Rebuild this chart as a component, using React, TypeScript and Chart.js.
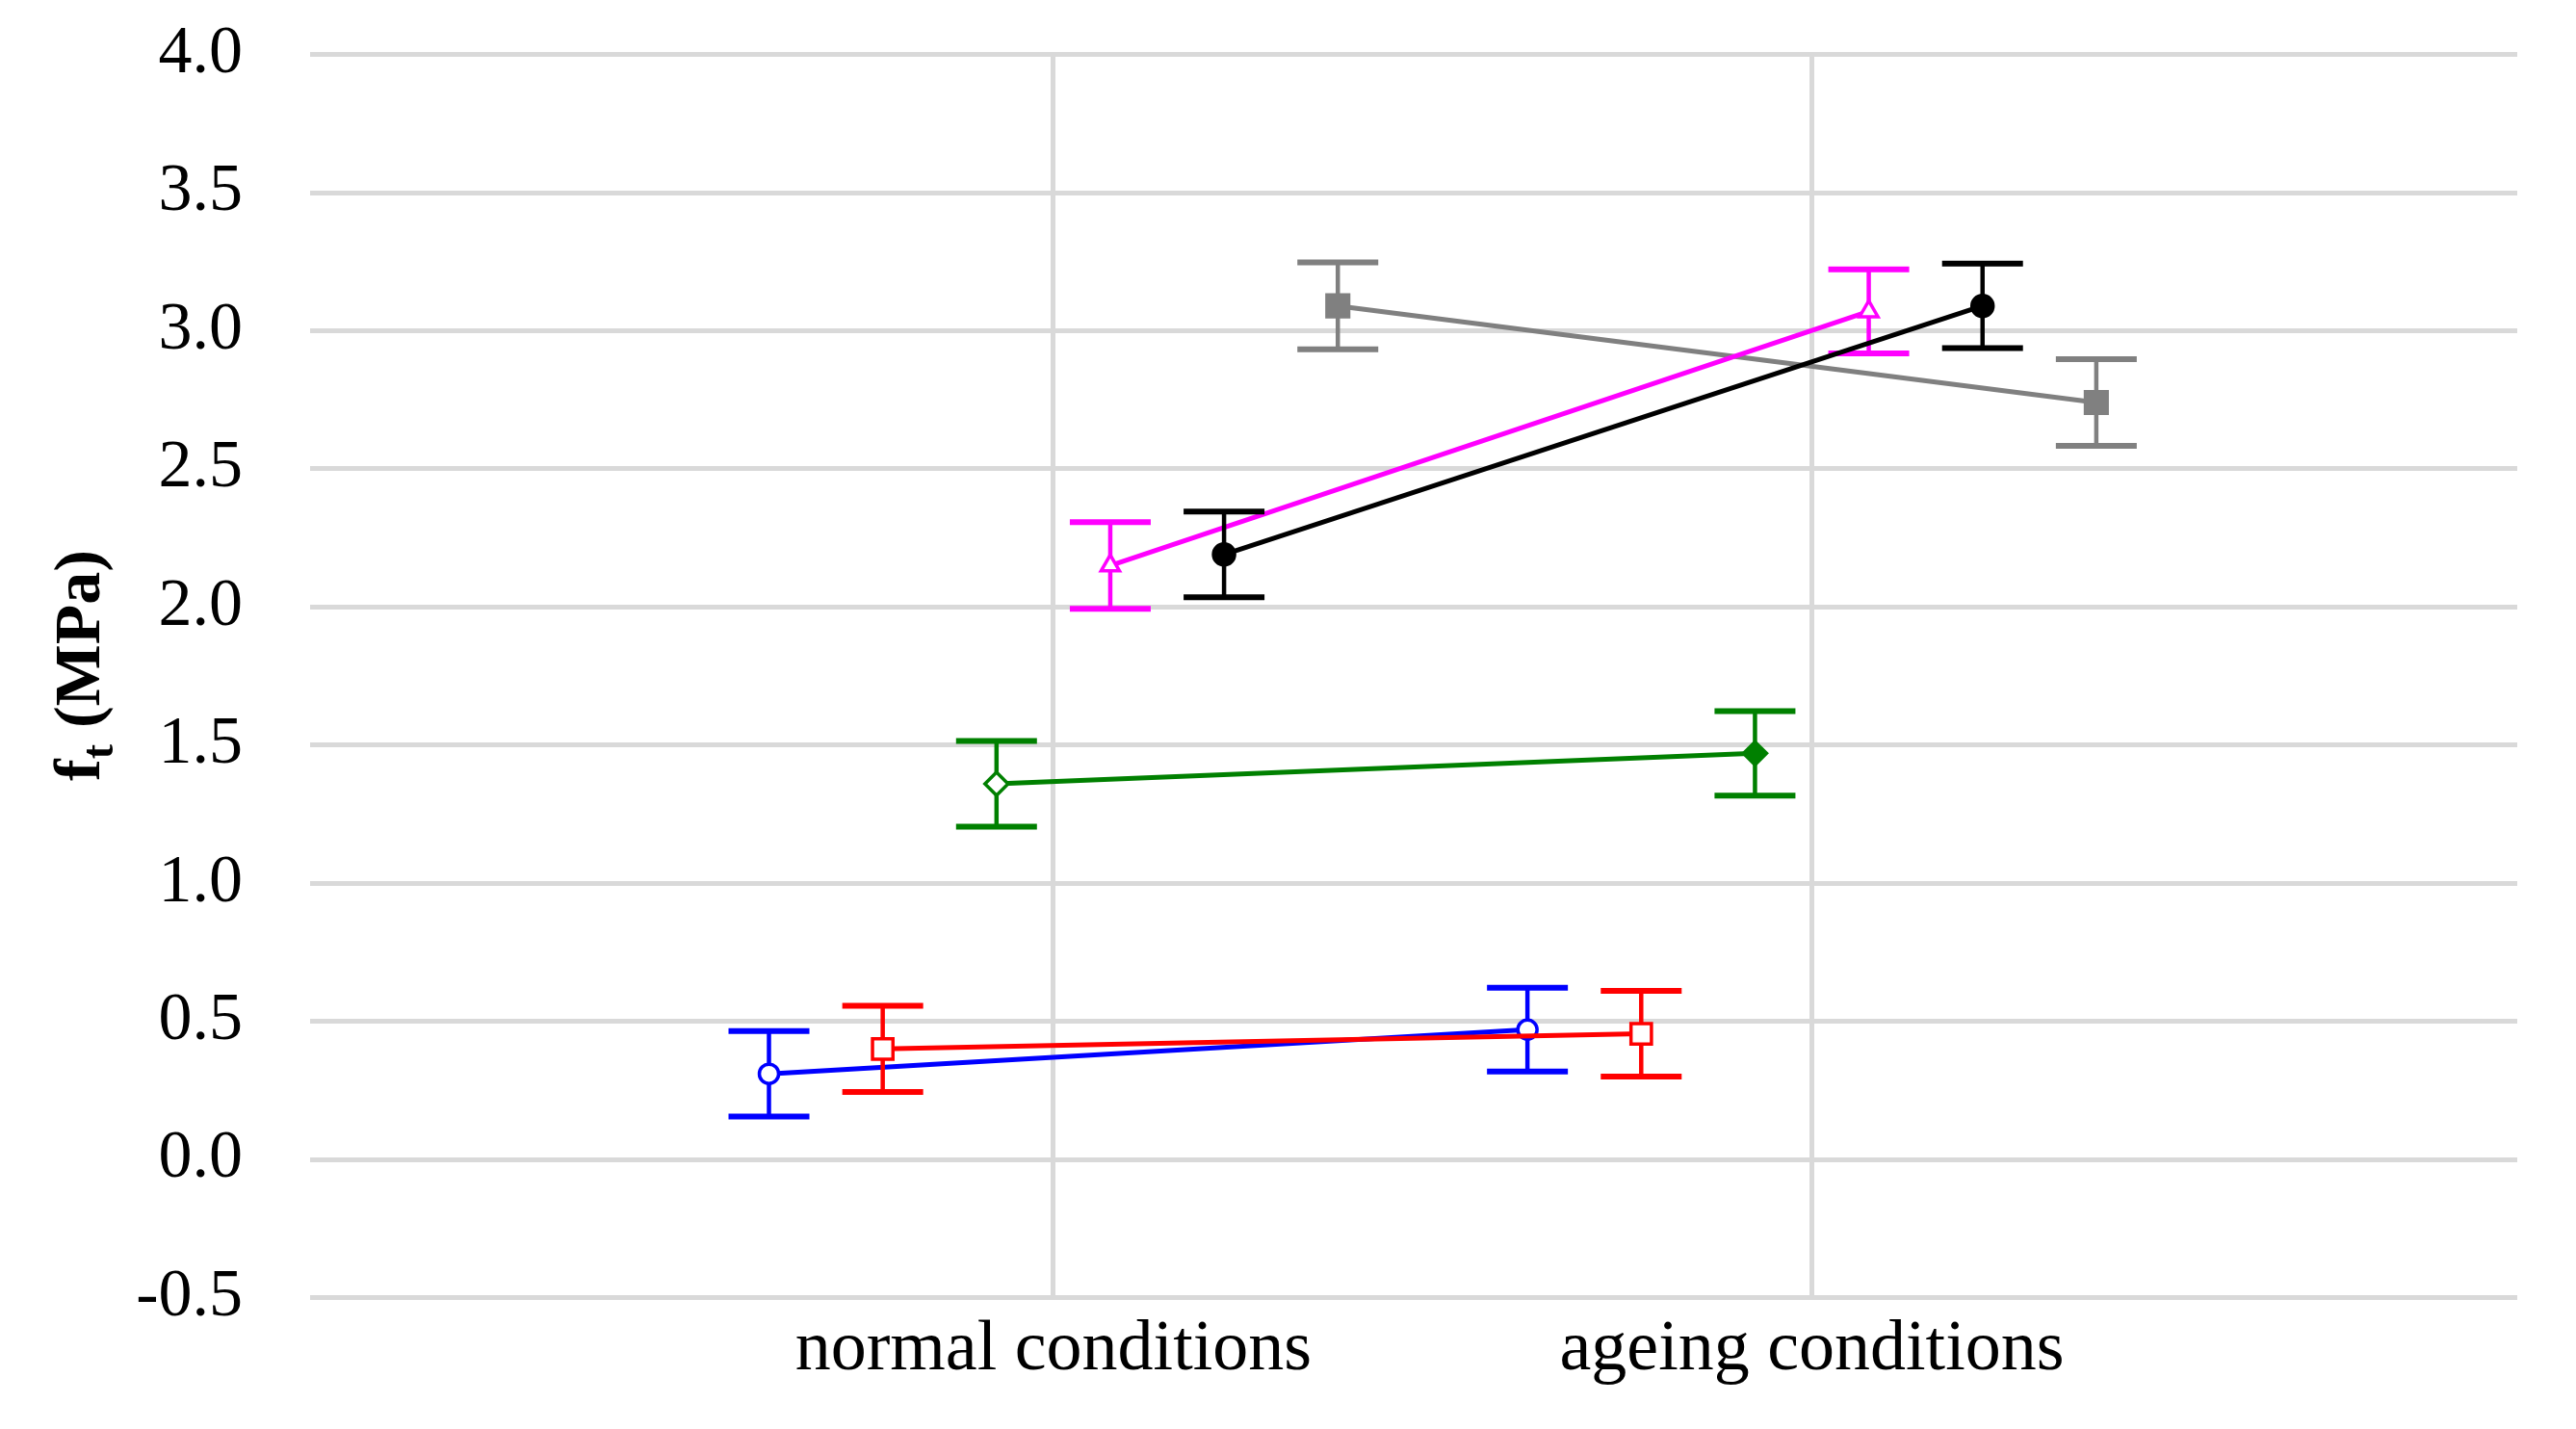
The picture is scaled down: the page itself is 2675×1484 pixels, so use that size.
import React, { useEffect, useRef } from 'react';
import { Chart, registerables } from 'chart.js';

Chart.register(...registerables);

// ---------- data ----------
const categories = ['normal conditions', 'ageing conditions'];

const blueValues = [0.31, 0.47];
const blueErrors = [0.155, 0.152];
const redValues = [0.40, 0.455];
const redErrors = [0.156, 0.155];
const greenValues = [1.36, 1.47];
const greenErrors = [0.155, 0.153];
const magentaValues = [2.15, 3.07];
const magentaErrors = [0.157, 0.152];
const blackValues = [2.19, 3.09];
const blackErrors = [0.155, 0.153];
const grayValues = [3.09, 2.74];
const grayErrors = [0.157, 0.157];

const yMin = -0.5;
const yMax = 4.0;
const yStep = 0.5;

const yTitleMain = 'f';
const yTitleSub = 't';
const yTitleUnit = ' (MPa)';

// ---------- styles ----------
const SERIES = [
  { values: blueValues, errors: blueErrors, color: '#0000FF', marker: 'circle', radius: 10, fill: ['#FFFFFF', '#FFFFFF'], order: 4 },
  { values: redValues, errors: redErrors, color: '#FF0000', marker: 'rect', radius: 15, fill: ['#FFFFFF', '#FFFFFF'], order: 3 },
  { values: greenValues, errors: greenErrors, color: '#008000', marker: 'rectRot', radius: 12, fill: ['#FFFFFF', '#008000'], order: 2 },
  { values: magentaValues, errors: magentaErrors, color: '#FF00FF', marker: 'triangle', radius: 11, fill: ['#FFFFFF', '#FFFFFF'], order: 1 },
  { values: blackValues, errors: blackErrors, color: '#000000', marker: 'circle', radius: 11, fill: ['#000000', '#000000'], order: 0 },
  { values: grayValues, errors: grayErrors, color: '#808080', marker: 'rect', radius: 16, fill: ['#808080', '#808080'], order: 5 },
];

const W = 2675;
const H = 1484;
const GROUP_STEP = 0.15;
const X_MIN = 0.02;
const X_MAX = 2.93;
const FONT = '"Liberation Serif", "Times New Roman", serif';

const errorBarPlugin = {
  id: 'errorBars',
  beforeDatasetDraw(chart: any, args: any) {
    const ds = chart.data.datasets[args.index];
    const meta = args.meta;
    const yScale = chart.scales.y;
    const ctx = chart.ctx;
    ctx.save();
    ctx.strokeStyle = ds.borderColor;
    ctx.lineCap = 'butt';
    meta.data.forEach((pt: any, i: number) => {
      const v = ds.data[i].y;
      const e = ds.errors[i];
      const yTop = yScale.getPixelForValue(v + e);
      const yBot = yScale.getPixelForValue(v - e);
      const x = pt.x;
      ctx.lineWidth = 4.5;
      ctx.beginPath();
      ctx.moveTo(x, yTop);
      ctx.lineTo(x, yBot);
      ctx.stroke();
      ctx.lineWidth = 6;
      ctx.beginPath();
      ctx.moveTo(x - 42, yTop);
      ctx.lineTo(x + 42, yTop);
      ctx.moveTo(x - 42, yBot);
      ctx.lineTo(x + 42, yBot);
      ctx.stroke();
    });
    ctx.restore();
  },
};

const yTitlePlugin = {
  id: 'yTitle',
  afterDraw(chart: any) {
    const ctx = chart.ctx;
    const mainFont = 'bold 68px ' + FONT;
    const subFont = 'bold 46px ' + FONT;
    ctx.save();
    ctx.translate(103, 691);
    ctx.rotate(-Math.PI / 2);
    ctx.fillStyle = '#000000';
    ctx.textBaseline = 'alphabetic';
    ctx.textAlign = 'left';
    ctx.font = mainFont;
    const wf = ctx.measureText(yTitleMain).width;
    const wu = ctx.measureText(yTitleUnit).width;
    ctx.font = subFont;
    const wt = ctx.measureText(yTitleSub).width;
    let x = -(wf + wt + wu) / 2;
    ctx.font = mainFont;
    ctx.fillText(yTitleMain, x, 0);
    x += wf;
    ctx.font = subFont;
    ctx.fillText(yTitleSub, x, 14);
    x += wt;
    ctx.font = mainFont;
    ctx.fillText(yTitleUnit, x, 0);
    ctx.restore();
  },
};

export default function App() {
  const ref = useRef<HTMLCanvasElement>(null);

  useEffect(() => {
    const canvas = ref.current;
    if (!canvas) return;
    const n = SERIES.length;
    const datasets = SERIES.map((s, i) => ({
      label: 'series ' + (i + 1),
      data: s.values.map((v, j) => ({ x: j + 1 + (i - (n - 1) / 2) * GROUP_STEP, y: v })),
      errors: s.errors,
      borderColor: s.color,
      backgroundColor: s.color,
      pointBackgroundColor: s.fill,
      pointBorderColor: s.color,
      pointStyle: s.marker,
      pointRadius: s.radius,
      pointBorderWidth: 3.5,
      borderWidth: 5,
      showLine: true,
      tension: 0,
      order: s.order,
    }));

    const chart = new Chart(canvas, {
      type: 'scatter',
      data: { datasets } as any,
      options: {
        animation: false,
        responsive: false,
        devicePixelRatio: 1,
        layout: { padding: { left: 0, right: 61, top: 56.6, bottom: 0 } },
        plugins: { legend: { display: false }, tooltip: { enabled: false } },
        scales: {
          x: {
            type: 'linear',
            min: X_MIN,
            max: X_MAX,
            afterBuildTicks: (ax: any) => {
              ax.ticks = categories.map((_, j) => ({ value: j + 1 }));
            },
            afterFit: (s: any) => {
              s.height = 136.5;
            },
            ticks: {
              callback: (_v: any, idx: number) => categories[idx],
              font: { family: FONT, size: 74 },
              color: '#000000',
              padding: 11,
              autoSkip: false,
              maxRotation: 0,
            },
            grid: { color: '#D9D9D9', lineWidth: 5, drawTicks: false },
            border: { display: false },
          },
          y: {
            type: 'linear',
            min: yMin,
            max: yMax,
            afterFit: (s: any) => {
              s.width = 322;
            },
            ticks: {
              stepSize: yStep,
              callback: (v: any) => Number(v).toFixed(1),
              font: { family: FONT, size: 70 },
              color: '#000000',
              padding: 4,
            },
            grid: { color: '#D9D9D9', lineWidth: 5, drawTicks: true, tickLength: 66, tickColor: 'rgba(0,0,0,0)' },
            border: { display: false },
          },
        },
      } as any,
      plugins: [errorBarPlugin, yTitlePlugin],
    });
    return () => chart.destroy();
  }, []);

  return (
    <div style={{ position: 'fixed', left: 0, top: 0, width: W, height: H, background: '#FFFFFF' }}>
      <canvas ref={ref} width={W} height={H} style={{ display: 'block', width: W, height: H }} />
    </div>
  );
}
